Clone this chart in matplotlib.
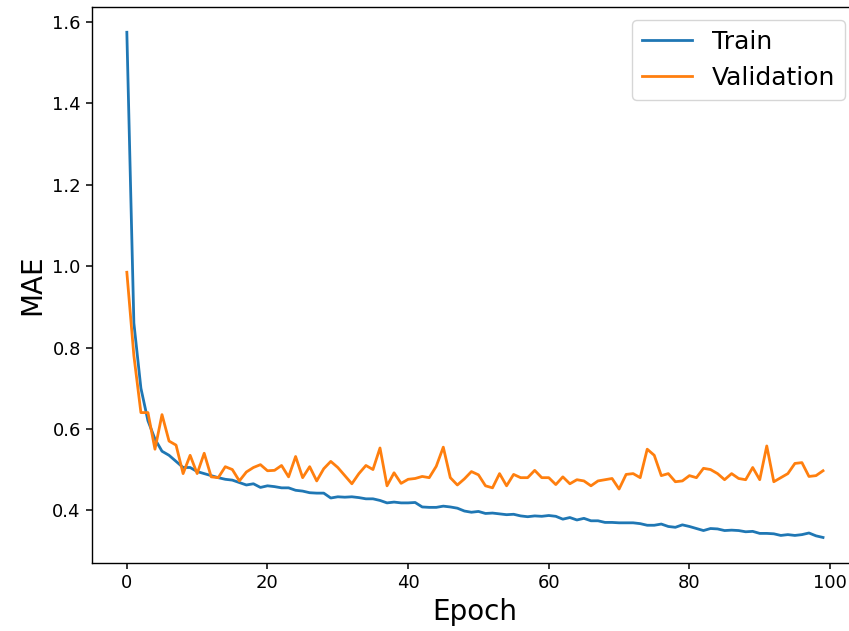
import matplotlib
matplotlib.use("Agg")
import matplotlib.pyplot as plt
import numpy as np

# MAE per epoch
train_mae = [1.575, 0.86, 0.70, 0.62, 0.575, 0.545, 0.535, 0.52, 0.505, 0.505,
             0.495, 0.49, 0.485, 0.48, 0.476, 0.474, 0.468, 0.462, 0.465, 0.456,
             0.46, 0.458, 0.455, 0.455, 0.449, 0.447, 0.443, 0.442, 0.442, 0.43,
             0.433, 0.432, 0.433, 0.431, 0.428, 0.428, 0.424, 0.418, 0.42, 0.418,
             0.418, 0.419, 0.408, 0.407, 0.407, 0.41, 0.408, 0.405, 0.398, 0.395,
             0.397, 0.392, 0.393, 0.391, 0.389, 0.39, 0.386, 0.384, 0.386, 0.385,
             0.387, 0.385, 0.378, 0.382, 0.376, 0.38, 0.374, 0.374, 0.37, 0.37,
             0.369, 0.369, 0.369, 0.367, 0.363, 0.363, 0.366, 0.36, 0.358, 0.364,
             0.36, 0.355, 0.35, 0.355, 0.354, 0.35, 0.351, 0.35, 0.347, 0.348,
             0.343, 0.343, 0.342, 0.338, 0.34, 0.338, 0.34, 0.344, 0.337, 0.333]

val_mae = [0.985, 0.78, 0.64, 0.64, 0.55, 0.635, 0.57, 0.56, 0.49, 0.535,
           0.49, 0.54, 0.482, 0.48, 0.507, 0.50, 0.472, 0.494, 0.505, 0.512,
           0.497, 0.498, 0.51, 0.482, 0.532, 0.48, 0.507, 0.472, 0.502, 0.52,
           0.505, 0.485, 0.465, 0.49, 0.51, 0.50, 0.553, 0.46, 0.492, 0.466,
           0.476, 0.478, 0.483, 0.48, 0.508, 0.555, 0.48, 0.462, 0.477, 0.495,
           0.487, 0.46, 0.455, 0.49, 0.46, 0.488, 0.48, 0.48, 0.498, 0.48,
           0.48, 0.463, 0.482, 0.465, 0.475, 0.472, 0.46, 0.472, 0.475, 0.478,
           0.452, 0.488, 0.49, 0.48, 0.55, 0.535, 0.485, 0.49, 0.47, 0.472,
           0.485, 0.48, 0.503, 0.50, 0.49, 0.475, 0.49, 0.478, 0.475, 0.505,
           0.475, 0.558, 0.47, 0.48, 0.49, 0.515, 0.517, 0.483, 0.485, 0.497]

epochs = np.arange(len(train_mae))

fig = plt.figure(figsize=(8.49, 6.31), dpi=100)
# axes runs slightly past the right edge, as in the (cropped) reference
ax = fig.add_axes([0.1084, 0.1082, 0.902, 0.8807])

ax.plot(epochs, train_mae, color='#1f77b4', linewidth=2, label='Train')
ax.plot(epochs, val_mae, color='#ff7f0e', linewidth=2, label='Validation')

ax.set_xlabel('Epoch', fontsize=20)
ax.set_ylabel('MAE', fontsize=20)
ax.tick_params(axis='both', which='major', labelsize=13, width=1.1, length=4.6)
for s in ax.spines.values():
    s.set_linewidth(1.0)
ax.legend(prop={'size': 18})

fig.savefig('out.png', dpi=100)
